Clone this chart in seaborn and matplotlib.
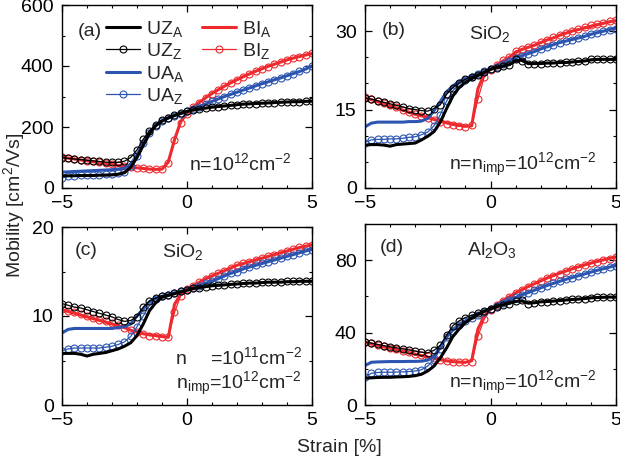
import numpy as np
import matplotlib
matplotlib.use('Agg')
import matplotlib.pyplot as plt
import seaborn as sns
from matplotlib.ticker import MultipleLocator
from matplotlib.lines import Line2D

STRAIN = np.linspace(-5, 5, 41)

# ---------------- panel (a) ----------------
a_UZ_A = [40,40,40,41,41,41,42,42,43,45,50,68,100,140,178,205,220,230,238,245,251,
          256,259,262,265,267,269,271,273,275,276,277,278,279,280,281,282,283,283,284,285]
a_UZ_Z = [100,97,95,93,91,89,87,85,84,84,88,100,125,160,188,208,222,231,239,246,251,
          256,259,262,265,267,269,271,273,275,276,277,278,279,280,281,282,283,283,284,285]
a_UA_A = [52,53,54,55,56,57,58,59,60,62,65,78,108,148,180,204,219,229,237,244,251,
          258,266,275,284,292,300,307,314,321,328,335,342,348,355,361,368,375,382,390,400]
a_UA_Z = [34,38,40,41,42,43,44,45,46,48,54,72,106,148,180,204,219,229,237,244,251,
          258,266,275,284,292,300,307,314,321,328,335,342,348,355,361,368,375,382,390,399]
a_BI_A = [101,98,95,92,89,86,83,80,77,74,71,68,66,64,62,61,62,85,158,218,245,
          265,281,296,310,322,334,345,355,365,374,383,391,399,406,413,420,426,431,436,441]
a_BI_Z = [102,99,96,93,90,87,84,81,78,75,72,69,66,64,62,61,63,82,156,214,244,
          264,280,295,309,321,333,344,354,364,373,382,390,398,405,412,419,425,431,436,441]

# ---------------- panel (b) ----------------
b_UZ_A = [8.2,8.3,8.3,8.2,8.0,8.3,8.4,8.5,8.6,9.2,9.9,10.8,12.6,15.2,17.6,19.2,20.2,20.9,21.5,22.1,22.7,
          23.0,23.3,23.6,24.3,24.5,23.8,23.8,23.8,23.9,23.9,24.0,24.0,24.1,24.2,24.3,24.5,24.6,24.6,24.6,24.6]
b_UZ_Z = [17.2,17.0,16.7,16.4,16.1,15.8,15.5,15.2,15.0,14.8,14.7,15.2,15.9,17.9,19.2,20.1,20.8,21.3,21.7,22.2,22.7,
          23.0,23.3,23.6,24.6,24.2,23.7,23.7,23.8,23.9,23.9,24.0,24.1,24.1,24.2,24.3,24.6,24.7,24.7,24.6,24.6]
b_UA_A = [11.7,12.4,12.6,12.6,12.6,12.6,12.6,12.7,12.7,12.8,13.3,14.8,16.5,18.4,19.5,20.4,20.9,21.4,21.8,22.3,22.7,
          23.2,23.7,24.3,24.9,25.3,25.7,26.1,26.6,27.0,27.4,27.8,28.1,28.4,28.7,29.0,29.4,29.7,30.0,30.3,30.6]
b_UA_Z = [8.7,9.2,9.3,9.3,9.4,9.4,9.5,9.7,9.8,10.2,10.7,11.9,14.0,16.6,18.6,19.9,20.7,21.3,21.8,22.3,22.7,
          23.2,23.7,24.3,24.9,25.3,25.7,26.1,26.6,27.0,27.4,27.8,28.1,28.4,28.7,29.0,29.4,29.7,30.0,30.3,30.5]
b_BI_A = [17.3,16.9,16.5,16.1,15.7,15.3,14.9,14.5,14.1,13.8,13.5,13.1,12.8,12.5,12.2,12.0,11.8,11.9,19.0,21.8,22.7,
          23.5,24.3,25.0,25.9,26.5,26.9,27.3,27.8,28.3,28.7,29.2,29.6,30.0,30.3,30.6,30.9,31.2,31.5,31.8,32.0]
b_BI_Z = [17.4,17.0,16.6,16.2,15.8,15.4,15.0,14.6,14.2,13.8,13.4,13.0,12.6,12.3,12.0,11.8,11.7,12.0,17.0,21.2,22.6,
          23.6,24.4,25.1,26.2,26.6,27.0,27.4,27.9,28.4,28.8,29.3,29.7,30.1,30.4,30.8,31.1,31.4,31.6,31.9,32.1]

# ---------------- panel (c) ----------------
c_UZ_A = [5.8,5.8,5.8,5.7,5.5,5.7,5.8,5.9,6.1,6.3,6.6,7.0,7.8,9.1,10.6,11.5,12.1,12.3,12.5,12.7,12.9,
          13.1,13.2,13.3,13.4,13.45,13.5,13.55,13.6,13.65,13.7,13.7,13.75,13.8,13.8,13.8,13.85,13.85,13.9,13.9,13.9]
c_UZ_Z = [11.4,11.2,11.0,10.9,10.7,10.5,10.3,10.1,9.9,9.6,9.4,9.5,9.9,11.0,11.7,12.0,12.3,12.4,12.6,12.8,12.9,
          13.1,13.2,13.3,13.4,13.5,13.5,13.6,13.6,13.7,13.7,13.7,13.8,13.8,13.8,13.8,13.9,13.9,13.9,13.9,13.9]
c_UA_A = [8.1,8.5,8.6,8.6,8.6,8.6,8.6,8.6,8.6,8.7,8.8,9.1,10.0,10.8,11.6,12.0,12.2,12.4,12.6,12.8,12.9,
          13.1,13.4,13.7,13.9,14.2,14.5,14.8,15.0,15.3,15.5,15.7,15.9,16.1,16.3,16.5,16.7,16.9,17.1,17.3,17.5]
c_UA_Z = [6.1,6.3,6.4,6.4,6.4,6.4,6.4,6.5,6.6,6.8,7.1,7.7,8.8,10.0,11.2,11.9,12.2,12.4,12.6,12.8,12.9,
          13.1,13.4,13.7,13.9,14.2,14.5,14.8,15.0,15.3,15.5,15.7,15.9,16.1,16.3,16.5,16.7,16.9,17.1,17.3,17.4]
c_BI_A = [10.7,10.5,10.3,10.1,9.9,9.7,9.5,9.3,9.1,8.9,8.7,8.4,8.2,8.0,7.9,7.8,7.7,7.6,11.3,12.5,13.0,
          13.4,13.8,14.2,14.5,14.8,15.1,15.4,15.7,15.9,16.1,16.3,16.5,16.7,16.9,17.1,17.3,17.5,17.7,17.85,18.0]
c_BI_Z = [10.8,10.6,10.4,10.2,10.0,9.8,9.6,9.4,9.2,9.0,8.7,8.4,8.2,8.0,7.8,7.7,7.6,7.6,10.4,12.3,13.0,
          13.4,13.8,14.2,14.5,14.8,15.1,15.4,15.7,15.9,16.1,16.3,16.5,16.7,16.9,17.1,17.3,17.5,17.7,17.85,18.0]

# ---------------- panel (d) ----------------
d_UZ_A = [14.8,15.0,15.2,15.3,15.3,15.5,15.6,15.8,16.2,17.0,18.8,21.5,26.0,31.5,37.8,42.0,45.5,48.0,50.0,51.8,53.2,
          54.3,55.3,56.2,57.2,57.5,56.3,56.5,57.0,57.2,57.4,57.7,58.0,58.3,58.5,58.8,59.2,59.4,59.5,59.6,59.6]
d_UZ_Z = [35.0,34.2,33.5,32.8,32.2,31.6,31.0,30.4,29.8,29.2,28.8,30.2,33.0,38.5,43.8,46.5,48.3,49.6,50.8,52.0,53.2,
          54.3,55.2,56.0,57.5,57.8,56.0,56.3,56.8,57.0,57.3,57.6,58.0,58.3,58.6,58.8,59.3,59.5,59.6,59.7,59.6]
d_UA_A = [21.8,23.6,23.8,23.9,24.0,24.0,24.0,24.1,24.1,24.2,24.8,27.0,32.0,37.5,41.5,44.5,46.5,48.3,50.0,51.6,53.0,
          54.8,56.5,58.0,59.4,60.8,62.1,63.4,64.7,66.0,67.2,68.3,69.4,70.4,71.4,72.4,73.4,74.4,75.3,76.2,77.1]
d_UA_Z = [15.4,17.5,18.0,18.1,18.1,18.2,18.3,18.5,18.8,19.5,21.5,25.0,31.0,37.5,41.0,44.0,46.3,48.2,50.0,51.6,53.0,
          54.8,56.5,58.0,59.4,60.8,62.1,63.4,64.7,66.0,67.2,68.3,69.4,70.4,71.4,72.4,73.4,74.4,75.3,76.2,77.0]
d_BI_A = [34.5,33.7,32.9,32.1,31.3,30.5,29.7,28.9,28.1,27.3,26.5,25.7,25.0,24.4,24.0,23.7,23.6,24.5,42.0,49.0,52.8,
          55.5,57.7,59.8,61.9,63.7,65.4,67.0,68.6,70.1,71.5,72.8,74.0,75.2,76.3,77.4,78.4,79.3,80.2,81.0,81.8]
d_BI_Z = [34.8,34.0,33.2,32.4,31.6,30.8,30.0,29.2,28.4,27.6,26.8,25.9,25.1,24.4,23.9,23.6,23.5,24.0,38.0,47.5,52.5,
          55.3,57.5,59.6,61.7,63.5,65.2,66.8,68.4,69.9,71.3,72.6,73.8,75.0,76.1,77.2,78.2,79.1,80.0,80.9,81.8]

SERIES = ["BI_A", "BI_Z", "UA_A", "UA_Z", "UZ_A", "UZ_Z"]  # drawing order
LEGEND_ORDER = ["UZ_A", "UZ_Z", "UA_A", "UA_Z", "BI_A", "BI_Z"]
LEGEND_LABELS = {
    "UZ_A": r"UZ$_\mathregular{A}$", "UZ_Z": r"UZ$_\mathregular{Z}$",
    "UA_A": r"UA$_\mathregular{A}$", "UA_Z": r"UA$_\mathregular{Z}$",
    "BI_A": r"BI$_\mathregular{A}$", "BI_Z": r"BI$_\mathregular{Z}$",
}
PANELS = {
    "a": dict(UZ_A=a_UZ_A, UZ_Z=a_UZ_Z, UA_A=a_UA_A, UA_Z=a_UA_Z, BI_A=a_BI_A, BI_Z=a_BI_Z),
    "b": dict(UZ_A=b_UZ_A, UZ_Z=b_UZ_Z, UA_A=b_UA_A, UA_Z=b_UA_Z, BI_A=b_BI_A, BI_Z=b_BI_Z),
    "c": dict(UZ_A=c_UZ_A, UZ_Z=c_UZ_Z, UA_A=c_UA_A, UA_Z=c_UA_Z, BI_A=c_BI_A, BI_Z=c_BI_Z),
    "d": dict(UZ_A=d_UZ_A, UZ_Z=d_UZ_Z, UA_A=d_UA_A, UA_Z=d_UA_Z, BI_A=d_BI_A, BI_Z=d_BI_Z),
}
YLIM = {"a": (0, 600), "b": (0, 35), "c": (0, 20), "d": (0, 100)}
YMAJOR = {"a": 200, "b": 15, "c": 10, "d": 40}
YMINOR = {"a": 100, "b": 5, "c": 5, "d": 20}

COLORS = {"UZ": "#000000", "UA": "#2b55b0", "BI": "#ee2a2f"}

sns.set_style("ticks")
plt.rcParams.update({
    "font.family": ["Liberation Sans", "DejaVu Sans"],
    "mathtext.fontset": "custom",
    "mathtext.rm": "Liberation Sans",
    "mathtext.it": "Liberation Sans:italic",
    "mathtext.bf": "Liberation Sans:bold",
    "xtick.direction": "in", "ytick.direction": "in",
    "xtick.top": True, "ytick.right": True,
    "xtick.major.size": 5, "ytick.major.size": 5,
    "xtick.minor.size": 2.5, "ytick.minor.size": 2.5,
    "xtick.major.width": 0.9, "ytick.major.width": 0.9,
    "xtick.minor.width": 0.8, "ytick.minor.width": 0.8,
    "axes.linewidth": 1.0,
    "xtick.labelsize": 14, "ytick.labelsize": 14,
    "xtick.major.pad": 5, "ytick.major.pad": 6,
    "axes.edgecolor": "black", "xtick.color": "black", "ytick.color": "black",
})

fig = plt.figure(figsize=(6.2, 4.57), dpi=100)
W, H = 620.0, 457.0
def rect(l, r, t, b):
    return [l / W, 1 - b / H, (r - l) / W, (b - t) / H]

axes = {
    "a": fig.add_axes(rect(62, 312, 5, 188)),
    "b": fig.add_axes(rect(365, 616, 5, 188)),
    "c": fig.add_axes(rect(62, 312, 227, 405)),
    "d": fig.add_axes(rect(365, 616, 224, 405)),
}

def style_kw(name):
    fam, kind = name.split("_")
    c = COLORS[fam]
    if kind == "A":
        return dict(color=c, linewidth=2.2)
    return dict(color=c, linewidth=0.9, marker="o", markersize=5,
                markerfacecolor="none", markeredgecolor=c, markeredgewidth=0.8)

for key, ax in axes.items():
    data = PANELS[key]
    for name in SERIES:
        sns.lineplot(x=STRAIN, y=np.asarray(data[name], float), ax=ax,
                     legend=False, errorbar=None, sort=False, **style_kw(name))
    ax.set_xlim(-5, 5)
    ax.set_ylim(*YLIM[key])
    ax.xaxis.set_major_locator(MultipleLocator(5))
    ax.xaxis.set_minor_locator(MultipleLocator(1))
    ax.yaxis.set_major_locator(MultipleLocator(YMAJOR[key]))
    ax.yaxis.set_minor_locator(MultipleLocator(YMINOR[key]))
    ax.tick_params(which="both", top=True, right=True, direction="in")
    ax.set_xlabel("")
    ax.set_ylabel("")

FS = 14
# legend in (a)
handles = []
for name in LEGEND_ORDER:
    handles.append(Line2D([], [], label=LEGEND_LABELS[name], **style_kw(name)))
blank = Line2D([], [], color="none", label=" ")
handles = handles + [blank, blank]
axes["a"].legend(handles=handles, loc="upper left", bbox_to_anchor=(0.17, 0.935),
                 ncol=2, frameon=False, fontsize=FS, handlelength=1.75,
                 handletextpad=0.3, labelspacing=0.12, columnspacing=0.9,
                 borderpad=0.1, borderaxespad=0.0, numpoints=1)

def txt(ax, x, y, s, **kw):
    kw.setdefault("fontsize", FS)
    ax.text(x, y, s, transform=ax.transAxes, **kw)

txt(axes["a"], 0.064, 0.855, "(a)", va="center")
txt(axes["a"], 0.92, 0.098, r"n=10$^\mathregular{12}$cm$^\mathregular{-2}$", ha="right", va="baseline")

txt(axes["b"], 0.068, 0.86, "(b)", va="center")
txt(axes["b"], 0.414, 0.815, r"SiO$_\mathregular{2}$", va="baseline")
txt(axes["b"], 0.924, 0.098, r"n=n$_\mathregular{imp}$=10$^\mathregular{12}$cm$^\mathregular{-2}$",
    ha="right", va="baseline")

txt(axes["c"], 0.052, 0.87, "(c)", va="center")
txt(axes["c"], 0.40, 0.83, r"SiO$_\mathregular{2}$", va="baseline")
txt(axes["c"], 0.456, 0.228, "n", va="baseline")
txt(axes["c"], 0.592, 0.228, r"=10$^\mathregular{11}$cm$^\mathregular{-2}$", va="baseline")
txt(axes["c"], 0.456, 0.092, r"n$_\mathregular{imp}$=10$^\mathregular{12}$cm$^\mathregular{-2}$", va="baseline")

txt(axes["d"], 0.06, 0.87, "(d)", va="center")
txt(axes["d"], 0.406, 0.83, r"Al$_\mathregular{2}$O$_\mathregular{3}$", va="baseline")
txt(axes["d"], 0.924, 0.094, r"n=n$_\mathregular{imp}$=10$^\mathregular{12}$cm$^\mathregular{-2}$",
    ha="right", va="baseline")

fig.text(0.022, 0.551, r"Mobility [cm$^\mathregular{2}$/Vs]", rotation=90, va="center",
         ha="center", fontsize=FS)
fig.text(0.548, 0.02, "Strain [%]", ha="center", va="center", fontsize=FS)

fig.savefig("out.png", dpi=100)
